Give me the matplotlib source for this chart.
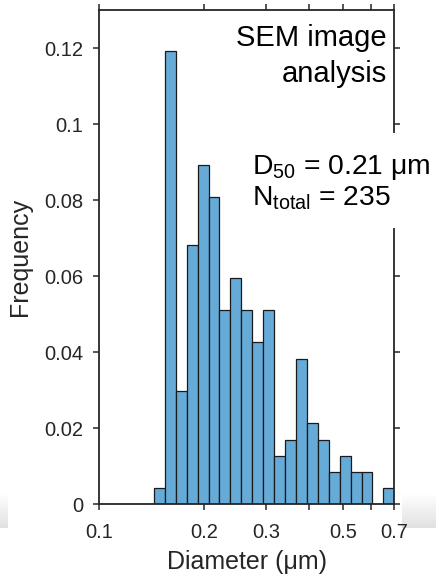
import numpy as np
import matplotlib
matplotlib.use("Agg")
import matplotlib.pyplot as plt
from matplotlib.patches import Rectangle

plt.rcParams['font.family'] = ['Liberation Sans', 'DejaVu Sans']
plt.rcParams['mathtext.default'] = 'regular'

# ---- data ----
d_min, d_max, n_bins = 0.1, 0.7, 27          # log-spaced histogram bins
counts = [0, 0, 0, 0, 0, 1, 28, 7, 16, 21, 19, 12, 14, 12, 10, 12,
          3, 4, 9, 5, 4, 2, 3, 2, 2, 0, 1]
n_total = 235
xticks = [0.1, 0.2, 0.3, 0.4, 0.5, 0.6, 0.7]
xticklabels = ['0.1', '0.2', '0.3', '', '0.5', '', '0.7']
yticks = [0, 0.02, 0.04, 0.06, 0.08, 0.1, 0.12]
yticklabels = ['0', '0.02', '0.04', '0.06', '0.08', '0.1', '0.12']

edges = np.logspace(np.log10(d_min), np.log10(d_max), n_bins + 1)
freq = np.array(counts) / n_total

fig = plt.figure(figsize=(4.36, 5.77), dpi=100)
ax = fig.add_axes([99.3 / 436, (577 - 504.3) / 577, 295 / 436, 494.3 / 577])

ax.bar(edges[:-1], freq, width=np.diff(edges), align='edge',
       color='#66AAD7', edgecolor='#1a1a1a', linewidth=0.9, zorder=2)

ax.set_xscale('log')
ax.set_xlim(d_min, d_max)
ax.set_ylim(0, 0.13)
ax.set_xticks(xticks)
ax.set_xticklabels(xticklabels)
ax.xaxis.set_minor_locator(matplotlib.ticker.NullLocator())
ax.set_yticks(yticks)
ax.set_yticklabels(yticklabels)

tc = '#262626'
for s in ax.spines.values():
    s.set_color(tc)
    s.set_linewidth(1.3)
ax.tick_params(which='both', direction='out', length=4.5, width=1.1, color=tc,
               labelcolor=tc, labelsize=14.5, top=True, right=True)
ax.tick_params(axis='x', pad=9)
ax.tick_params(axis='y', pad=7)

ax.set_xlabel('Diameter (μm)', fontsize=18, color=tc, labelpad=6)
ax.set_ylabel('Frequency', fontsize=18, color=tc, labelpad=9)

# annotations
ax.text(0.974, 0.928, 'SEM image', transform=ax.transAxes, ha='right',
        va='baseline', fontsize=21, color='black', zorder=5)
ax.text(0.974, 0.855, 'analysis', transform=ax.transAxes, ha='right',
        va='baseline', fontsize=21, color='black', zorder=5)

ax.add_patch(Rectangle((0.455, 0.559), 0.8, 0.192, transform=ax.transAxes,
                       facecolor='white', edgecolor='none', clip_on=False, zorder=4))
ax.text(0.5166, 0.668, r'$D_{50}$ = 0.21 μm', transform=ax.transAxes,
        ha='left', va='baseline', fontsize=20.3, color='black', zorder=5, clip_on=False)
ax.text(0.5166, 0.604, r'$N_{total}$ = 235', transform=ax.transAxes,
        ha='left', va='baseline', fontsize=20.3, color='black', zorder=5, clip_on=False)

# faint screenshot shading at the bottom corners
grad = np.linspace(1.0, 0.88, 50).reshape(-1, 1)
for rect in ([0, 49 / 577, 7 / 436, 35 / 577], [401.7 / 436, 49 / 577, 34.3 / 436, 35 / 577]):
    gax = fig.add_axes(rect, zorder=-1)
    gax.imshow(grad, cmap='gray', vmin=0, vmax=1, aspect='auto', extent=[0, 1, 0, 1])
    gax.axis('off')

fig.savefig('out.png', dpi=100)
